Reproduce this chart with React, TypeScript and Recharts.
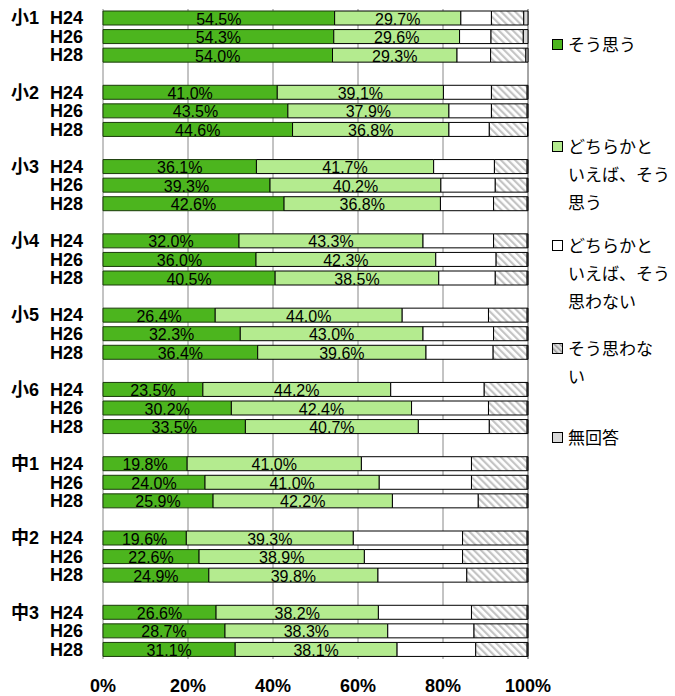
import { BarChart, Bar, XAxis, YAxis, CartesianGrid, LabelList } from 'recharts';

const GROUPS = ['小1', '小2', '小3', '小4', '小5', '小6', '中1', '中2', '中3'];
const YEARS = ['H24', 'H26', 'H28'];
const X_TICKS = [0, 20, 40, 60, 80, 100];

const SERIES_NAMES = [
  'そう思う',
  'どちらかといえば、そう思う',
  'どちらかといえば、そう思わない',
  'そう思わない',
  '無回答',
];

// 27 values each: groups in order, H24/H26/H28 inside each group
const SOU_OMOU = [
  54.5, 54.3, 54.0, 41.0, 43.5, 44.6, 36.1, 39.3, 42.6,
  32.0, 36.0, 40.5, 26.4, 32.3, 36.4, 23.5, 30.2, 33.5,
  19.8, 24.0, 25.9, 19.6, 22.6, 24.9, 26.6, 28.7, 31.1,
];
const DOCHIRA_SOU = [
  29.7, 29.6, 29.3, 39.1, 37.9, 36.8, 41.7, 40.2, 36.8,
  43.3, 42.3, 38.5, 44.0, 43.0, 39.6, 44.2, 42.4, 40.7,
  41.0, 41.0, 42.2, 39.3, 38.9, 39.8, 38.2, 38.3, 38.1,
];
const DOCHIRA_NOT = [
  7.2, 7.4, 7.9, 11.3, 10.0, 9.5, 14.3, 12.8, 12.5,
  16.6, 14.2, 13.3, 20.3, 16.6, 15.8, 22.0, 18.1, 16.7,
  25.9, 21.7, 20.2, 25.7, 23.1, 20.9, 21.9, 20.3, 18.5,
];
const SOU_NOT = [
  7.6, 7.6, 8.3, 8.4, 8.4, 9.0, 7.7, 7.5, 7.9,
  7.9, 7.3, 7.5, 9.1, 7.9, 8.0, 10.1, 9.1, 8.9,
  13.1, 13.1, 11.5, 15.2, 15.2, 14.2, 13.1, 12.5, 12.1,
];
const MUKAITOU = [
  1.0, 1.1, 0.5, 0.2, 0.2, 0.1, 0.2, 0.2, 0.2,
  0.2, 0.2, 0.2, 0.2, 0.2, 0.2, 0.2, 0.2, 0.2,
  0.2, 0.2, 0.2, 0.2, 0.2, 0.2, 0.2, 0.2, 0.2,
];

type Row = {
  key: string;
  group: string;
  year: string;
  s1?: number;
  s2?: number;
  s3?: number;
  s4?: number;
  s5?: number;
};

const rows: Row[] = [];
GROUPS.forEach((g, gi) => {
  YEARS.forEach((y, yi) => {
    const i = gi * 3 + yi;
    rows.push({
      key: `${g}-${y}`,
      group: yi === 0 ? g : '',
      year: y,
      s1: SOU_OMOU[i],
      s2: DOCHIRA_SOU[i],
      s3: DOCHIRA_NOT[i],
      s4: SOU_NOT[i],
      s5: MUKAITOU[i],
    });
  });
  // empty row between groups
  if (gi < GROUPS.length - 1) rows.push({ key: `gap-${gi}`, group: '', year: '' });
});
const rowByKey: Record<string, Row> = {};
rows.forEach((r) => (rowByKey[r.key] = r));

const DARK = '#4CB51E';
const LIGHT = '#B4EB8F';
const NOANS = '#D9D9D9';
const LABEL_FONT = "'Liberation Sans', Arial, sans-serif";
const AXIS_FONT = "'Liberation Sans', 'Noto Sans CJK JP', sans-serif";

const YTick = (props: any) => {
  const { x, y, payload } = props;
  const r = rowByKey[payload.value];
  if (!r || !r.year) return null;
  return (
    <g>
      {r.group && (
        <text x={x - 44} y={y} textAnchor="end" dominantBaseline="central" fontFamily={AXIS_FONT} fontWeight="bold" fontSize={18} fill="#000">
          {r.group}
        </text>
      )}
      <text x={x} y={y} textAnchor="end" dominantBaseline="central" fontFamily={AXIS_FONT} fontWeight="bold" fontSize={18} fill="#000">
        {r.year}
      </text>
    </g>
  );
};

const XTick = (props: any) => {
  const { x, y, payload } = props;
  return (
    <text x={x} y={y} dy={19} textAnchor="middle" dominantBaseline="central" fontFamily={AXIS_FONT} fontWeight="bold" fontSize={18} fill="#000">
      {payload.value}%
    </text>
  );
};

const pctLabel = (props: any) => {
  const { x, y, width, height, value } = props;
  if (value == null) return null;
  return (
    <text x={x + width / 2} y={y + height / 2 + 1} textAnchor="middle" dominantBaseline="central" fontFamily={LABEL_FONT} fontSize={16} fill="#000">
      {Number(value).toFixed(1)}%
    </text>
  );
};

const LEGEND_LINES = [
  ['そう思う'],
  ['どちらかと', 'いえば、そう', '思う'],
  ['どちらかと', 'いえば、そう', '思わない'],
  ['そう思わな', 'い'],
  ['無回答'],
];
const LEGEND_TOP = [30, 132, 231, 334, 423];
const LEGEND_FILLS = [DARK, LIGHT, '#FFFFFF', 'url(#hatchLegend)', NOANS];

function Legend5() {
  return (
    <div style={{ position: 'absolute', left: 552, top: 0, width: 123, fontFamily: "'Noto Sans CJK JP', sans-serif", fontSize: 17, lineHeight: '28px', color: '#000' }}>
      {SERIES_NAMES.map((name, i) => (
        <div key={name} title={name} style={{ position: 'absolute', top: LEGEND_TOP[i], left: 0, width: 123 }}>
          <svg width={11} height={11} style={{ position: 'absolute', left: 0, top: 9 }}>
            <defs>
              <pattern id="hatchLegend" patternUnits="userSpaceOnUse" width={4} height={4} patternTransform="rotate(-45)">
                <rect width={4} height={4} fill="#E0E0E0" />
                <rect width={1.5} height={4} fill="#999" />
              </pattern>
            </defs>
            <rect x={0.5} y={0.5} width={10} height={10} fill={LEGEND_FILLS[i]} stroke="#000" strokeWidth={1} />
          </svg>
          <div style={{ marginLeft: 16 }}>
            {LEGEND_LINES[i].map((l) => (
              <div key={l}>{l}</div>
            ))}
          </div>
        </div>
      ))}
    </div>
  );
}

export default function App() {
  return (
    <div style={{ position: 'absolute', left: 0, top: 0, width: 675, height: 696, background: '#fff' }}>
      <BarChart
        width={675}
        height={696}
        data={rows}
        layout="vertical"
        barSize={14}
        margin={{ top: 9, right: 147, left: 0, bottom: 0 }}
      >
        <defs>
          <pattern id="hatch" patternUnits="userSpaceOnUse" width={5} height={5} patternTransform="rotate(-45)">
            <rect width={5} height={5} fill="#FFFFFF" />
            <rect width={2.2} height={5} fill="#C4C4C4" />
          </pattern>
        </defs>
        <CartesianGrid horizontal={false} vertical stroke="#888" />
        <XAxis
          type="number"
          domain={[0, 100]}
          ticks={X_TICKS}
          axisLine={false}
          tickLine={false}
          height={37}
          tick={<XTick />}
          interval={0}
        />
        <YAxis
          type="category"
          dataKey="key"
          width={103}
          axisLine={false}
          tickLine={false}
          tickMargin={14}
          tick={<YTick />}
          interval={0}
        />
        <Bar dataKey="s1" name={SERIES_NAMES[0]} stackId="a" fill={DARK} stroke="#1A3A0A" strokeWidth={1} isAnimationActive={false}>
          <LabelList dataKey="s1" content={pctLabel} />
        </Bar>
        <Bar dataKey="s2" name={SERIES_NAMES[1]} stackId="a" fill={LIGHT} stroke="#000" strokeWidth={1} isAnimationActive={false}>
          <LabelList dataKey="s2" content={pctLabel} />
        </Bar>
        <Bar dataKey="s3" name={SERIES_NAMES[2]} stackId="a" fill="#FFFFFF" stroke="#000" strokeWidth={1} isAnimationActive={false} />
        <Bar dataKey="s4" name={SERIES_NAMES[3]} stackId="a" fill="url(#hatch)" stroke="#000" strokeWidth={1} isAnimationActive={false} />
        <Bar dataKey="s5" name={SERIES_NAMES[4]} stackId="a" fill={NOANS} stroke="#000" strokeWidth={1} isAnimationActive={false} />
      </BarChart>
      <Legend5 />
    </div>
  );
}
